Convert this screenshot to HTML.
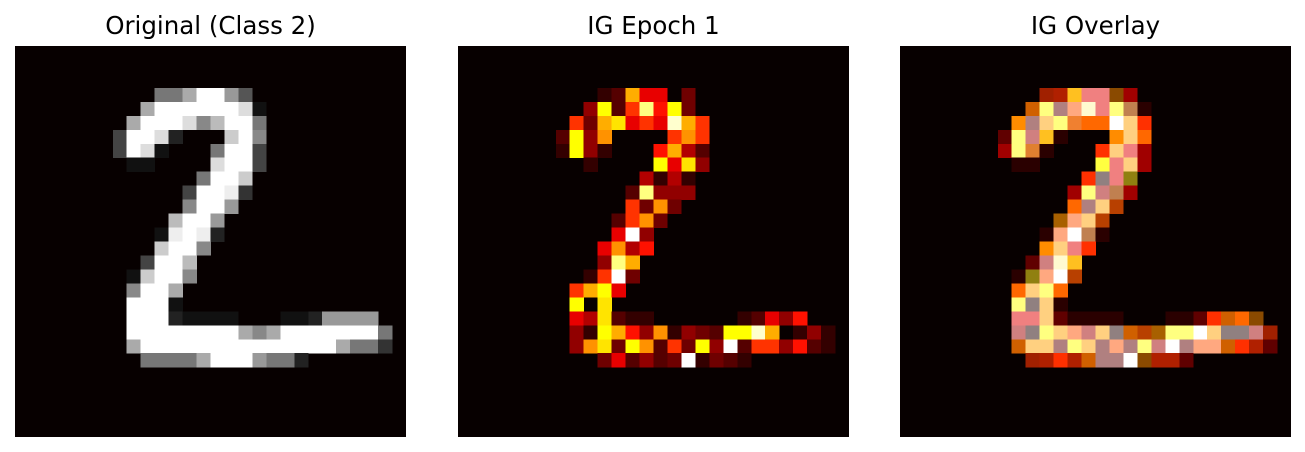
<!DOCTYPE html>
<html>
<head>
<meta charset="utf-8">
<style>
  html,body{margin:0;padding:0;background:#fff;}
  body{width:1305px;height:452px;position:relative;overflow:hidden;font-family:"DejaVu Sans","Liberation Sans",sans-serif;}
  .title{position:absolute;top:11px;width:391px;text-align:center;font-size:24.5px;line-height:30px;color:#000;}
  svg.panel{position:absolute;top:46px;width:391px;height:391px;}
</style>
</head>
<body>
<div class="title" style="left:15px">Original (Class 2)</div>
<div class="title" style="left:458px">IG Epoch 1</div>
<div class="title" style="left:900px">IG Overlay</div>
<svg class="panel" id="p1" style="left:15px" viewBox="0 0 28 28" shape-rendering="crispEdges"></svg>
<svg class="panel" id="p2" style="left:458px" viewBox="0 0 28 28" shape-rendering="crispEdges"></svg>
<svg class="panel" id="p3" style="left:900px" viewBox="0 0 28 28" shape-rendering="crispEdges"></svg>
<script>
const originalRows = [
"............................",
"............................",
"............................",
"..........77aff95...........",
".........affffffd1..........",
"........afffd8bff7..........",
".......4ffd2...cf8..........",
".......4fd1...7ff4..........",
"........11....dff4..........",
".............7ffc...........",
"............4ffe3...........",
"............8ff9............",
"...........bff9.............",
"..........1efe2.............",
"..........cff8..............",
".........4ffb...............",
"........1cff8...............",
"........8ffa................",
"........fff1................",
"........fff21111...1129999..",
"........ffffffffa8afffffff7.",
"........affffffffffffffa773.",
".........7777afff9772.......",
"............................",
"............................",
"............................",
"............................",
"............................"
];
const igRows = [
"............................",
"............................",
"............................",
"..........12a66.3...........",
".........4c28d7c3...........",
"........83ab686ea8..........",
".......2c49....898..........",
".......1c41...7a52..........",
".........1....c6b4..........",
".............5151...........",
"............2d444...........",
"............8393............",
"...........2893.............",
"...........6f4..............",
"..........6957..............",
"..........4da...............",
".........18f3...............",
"........8ac6................",
"........c.b.................",
"........65b211......12647...",
"........41ca7491432ccea.141.",
"........49b3c9283c4f2884721.",
"..........362423f1321.......",
"............................",
"............................",
"............................",
"............................",
"............................"
];
const overlayRows = [
"............................",
"............................",
"............................",
"..........ABCPPNR...........",
".........OYMSePYXK..........",
"........QMFYGHHWFT..........",
".......DYLCK...QFH..........",
".......RYIK...TFPR..........",
"........KK....UPFR..........",
".............TVPJ...........",
"............RYLXR...........",
"............HMFn............",
"...........bSFn.............",
"..........KSWXK.............",
"..........QFPT..............",
".........DLeC...............",
"........KJSWn...............",
"........HFYH................",
"........YVFK................",
"........PPFDKKKK...KKDTOHN..",
"........LVYFSLFVOnbYYWFVVLA.",
"........OFFMYFMSMYLWMSSOTBD.",
".........ABTBOMMWNBBD.......",
"............................",
"............................",
"............................",
"............................",
"............................"
];
const hotLevels = {'1':0.06,'2':0.11,'3':0.15,'4':0.2,'5':0.25,'6':0.33,'7':0.39,'8':0.44,'9':0.58,'a':0.62,'b':0.7,'c':0.74,'d':0.87,'e':0.95,'f':1};
const overlayPalette = {A:'#a02000',B:'#b02000',C:'#ffc020',P:'#f08080',N:'#8a4a00',R:'#a00000',O:'#d06000',Y:'#ffff80',M:'#b08080',S:'#ffa880',e:'#fffad0',G:'#f08030',H:'#ff6800',W:'#ffffff',F:'#ffd080',T:'#ff3000',K:'#2a0000',D:'#600000',Q:'#ff8c00',L:'#d08080',I:'#e08030',U:'#ffff40',V:'#908080',X:'#c08050',J:'#908010',n:'#b84000',b:'#a86000'};
const BG = '#070000';
function hot(t){
  const r=Math.min(1,Math.max(0,t/0.365)), g=Math.min(1,Math.max(0,(t-0.365)/0.375)), b=Math.min(1,Math.max(0,(t-0.74)/0.26));
  return 'rgb('+Math.round(11+244*r)+','+Math.round(255*g)+','+Math.round(255*b)+')';
}
function grayCol(ch){const v=parseInt(ch,16)*17;return 'rgb('+v+','+v+','+v+')';}
function draw(id, rows, colorFn, name){
  const svg=document.getElementById(id);
  const ns='http://www.w3.org/2000/svg';
  const bg=document.createElementNS(ns,'rect');
  bg.setAttribute('x',0);bg.setAttribute('y',0);bg.setAttribute('width',28);bg.setAttribute('height',28);bg.setAttribute('fill',BG);
  
  
  svg.appendChild(bg);
  rows.forEach((row,r)=>{
    for(let c=0;c<row.length;c++){
      const ch=row[c]; if(ch==='.') continue;
      const rect=document.createElementNS(ns,'rect');
      rect.setAttribute('x',c);rect.setAttribute('y',r);rect.setAttribute('width',1.02);rect.setAttribute('height',1.02);
      rect.setAttribute('fill',colorFn(ch));
      
      
      svg.appendChild(rect);
    }
  });
}
draw('p1', originalRows, grayCol, 'pixel');
draw('p2', igRows, ch=>hot(hotLevels[ch]), 'heatmap-cell');
draw('p3', overlayRows, ch=>overlayPalette[ch]||BG, 'overlay-cell');
</script>
</body>
</html>
